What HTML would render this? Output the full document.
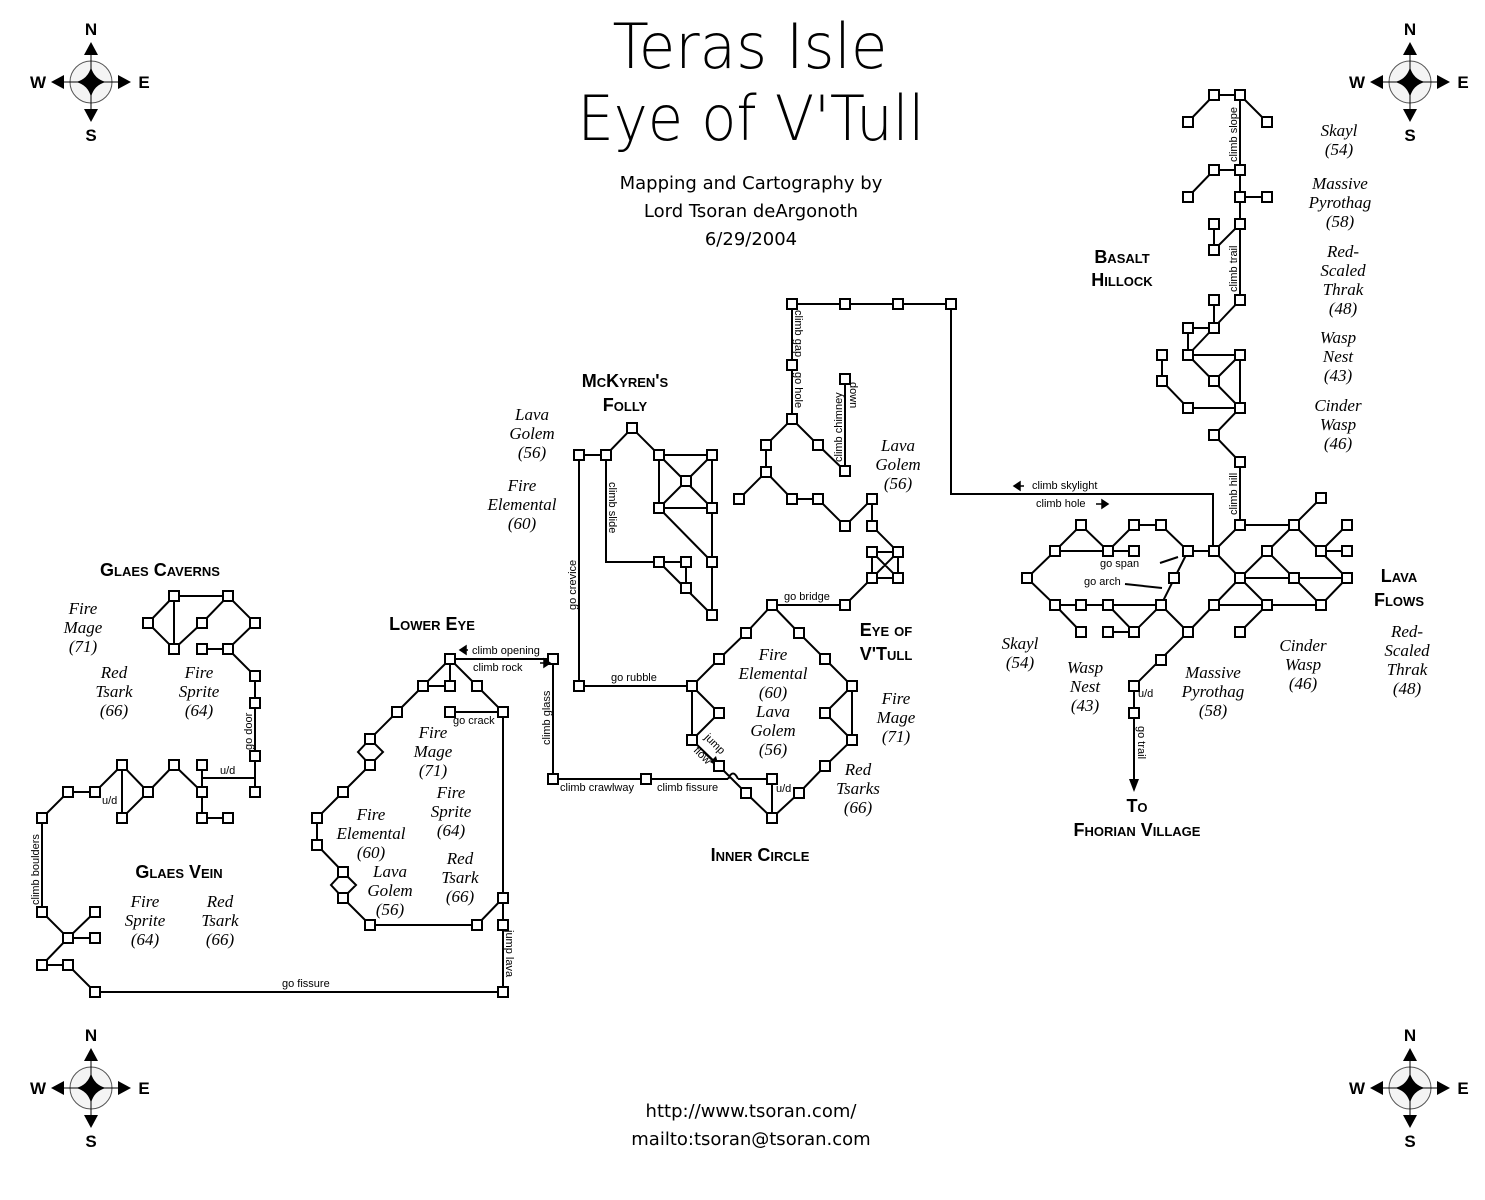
<!DOCTYPE html>
<html><head><meta charset="utf-8"><style>
html,body{margin:0;padding:0;background:#fff;}
svg{display:block;}
.e{fill:none;stroke:#000;stroke-width:2;}
.t{font-family:"Liberation Sans",sans-serif;font-size:11px;fill:#000;}
.m{font-family:"Liberation Serif",serif;font-style:italic;font-size:17px;fill:#000;text-anchor:middle;}
.h{font-family:"Liberation Sans",sans-serif;font-weight:bold;font-variant:small-caps;font-size:18px;fill:#000;text-anchor:middle;}
.c{font-family:"Liberation Sans",sans-serif;font-size:17px;font-weight:bold;fill:#000;text-anchor:middle;}
</style></head><body>
<svg width="1485" height="1200" viewBox="0 0 1485 1200" xmlns="http://www.w3.org/2000/svg">
<defs>
<rect id="n" x="-5" y="-5" width="10" height="10" fill="#fff" stroke="#000" stroke-width="2"/>
<g id="cp">
<circle cx="0" cy="0" r="21" fill="#f4f4f4" stroke="#555" stroke-width="1"/>
<path d="M0 -36V36M-36 0H36" stroke="#000" stroke-width="1"/>
<path d="M0 -15Q3 -3 15 0Q3 3 0 15Q-3 3 -15 0Q-3 -3 0 -15Z" fill="#000"/>
<path d="M0 -40L-7 -27H7Z M0 40L-7 27H7Z M-40 0L-27 -7V7Z M40 0L27 -7V7Z" fill="#000"/>
<text x="0" y="-47" class="c">N</text><text x="0" y="59" class="c">S</text>
<text x="-53" y="6" class="c">W</text><text x="53" y="6" class="c">E</text>
</g>
</defs>
<use href="#cp" x="91" y="82"/><use href="#cp" x="1410" y="82"/>
<use href="#cp" x="91" y="1088"/><use href="#cp" x="1410" y="1088"/>

<text x="750" y="68" text-anchor="middle" font-family="DejaVu Sans,Liberation Sans,sans-serif" font-size="62" font-weight="300" textLength="275" lengthAdjust="spacingAndGlyphs">Teras Isle</text>
<text x="751" y="140" text-anchor="middle" font-family="DejaVu Sans,Liberation Sans,sans-serif" font-size="62" font-weight="300" textLength="347" lengthAdjust="spacingAndGlyphs">Eye of V'Tull</text>
<g font-family="DejaVu Sans,Liberation Sans,sans-serif" font-size="18" text-anchor="middle">
<text x="751" y="189">Mapping and Cartography by</text>
<text x="751" y="217">Lord Tsoran deArgonoth</text>
<text x="751" y="245">6/29/2004</text>
<text x="751" y="1117">http://www.tsoran.com/</text>
<text x="751" y="1145">mailto:tsoran@tsoran.com</text>
</g>

<path class="e" d="
M174 596L228 596 M174 596L148 623L174 649L174 596 M174 649L202 623L228 596L255 623L228 649L202 649 M228 649L255 676L255 792
M202 765L202 818L228 818 M202 778H255V792 M174 765L202 792 M174 765L148 792L122 765L122 818L148 792 M122 765L95 792L68 792L42 818L42 912L68 938L95 912 M68 938L95 938 M68 938L42 965L68 965L95 992L503 992L503 898 M503 925L503 898L503 712L477 686L450 659L450 686L423 686L450 659 M423 686L397 712L370 739 M370 765L343 792L317 818L317 845L343 872 M343 898L370 925L477 925L503 898 M450 712L503 712 M450 659H553V779H646 M370 739L358 752L370 765L383 752Z M343 872L331 885L343 898L356 885Z
M553 779H646H728 M738 779H772V818 M728 779Q733 768 738 779
M579 686H692 M579 686V455H606L632 428L659 455H712V615 M659 455V508H712 M659 455L712 508 M712 455L659 508 M659 508L712 562 M606 455V562H686V588 M659 562L712 615
M772 605L746 633L719 659L692 686V740L719 766L746 793L772 818L799 793L825 766L852 740V686L825 659L799 633L772 605 M692 686L719 713L692 740 M852 686L825 713L852 740 M772 605H845L872 578 M872 552H898V578H872Z M872 552L898 578 M898 552L872 578 M898 552L872 526V499L845 526L818 499H792L766 472L739 499 M766 472V445L792 419L818 445L845 471 M845 379V471 M792 419V304H951V494H1213V551
M1214 95H1240L1267 122 M1214 95L1188 122 M1240 95V170H1214L1188 197 M1240 170V224L1214 250V224 M1240 197H1267 M1240 224V300L1188 355 M1214 300V328H1188V355H1240V408 M1188 355L1240 408 M1240 355L1214 381 M1162 355V381L1188 408H1240L1214 435L1240 462V525
M1240 525H1294L1321 498 M1294 525L1240 578 M1294 525L1347 578 M1321 551L1347 525 M1321 551H1347 M1240 525L1214 551L1240 578H1347 M1267 551L1321 605 M1240 578L1267 605 M1240 578L1188 632L1134 686V713 M1214 605H1321L1347 578 M1267 605L1240 632
M1214 551H1188L1161 525H1134L1108 551 M1188 551L1161 605L1188 632 M1161 605L1134 632L1108 605 M1108 632H1134 M1161 605H1055L1027 578L1055 551H1134 M1055 551L1081 525L1108 551 M1055 605L1081 632
M1134 713V780 M1160 563L1178 557 M1125 584L1162 588
"/>
<path d="M1134 792L1129 779H1139Z" fill="#000"/>
<path d="M719 767L710 762L716 756Z" fill="#000"/>
<path d="M719 767L703 752" stroke="#000" stroke-width="1"/>

<g>
<use href="#n" x="174" y="596"/><use href="#n" x="228" y="596"/><use href="#n" x="148" y="623"/><use href="#n" x="202" y="623"/><use href="#n" x="255" y="623"/><use href="#n" x="174" y="649"/><use href="#n" x="202" y="649"/><use href="#n" x="228" y="649"/><use href="#n" x="255" y="676"/><use href="#n" x="255" y="703"/><use href="#n" x="255" y="756"/><use href="#n" x="255" y="792"/>
<use href="#n" x="202" y="765"/><use href="#n" x="202" y="792"/><use href="#n" x="174" y="765"/><use href="#n" x="148" y="792"/><use href="#n" x="122" y="765"/><use href="#n" x="122" y="818"/><use href="#n" x="95" y="792"/><use href="#n" x="68" y="792"/><use href="#n" x="42" y="818"/><use href="#n" x="202" y="818"/><use href="#n" x="228" y="818"/>
<use href="#n" x="42" y="912"/><use href="#n" x="68" y="938"/><use href="#n" x="95" y="912"/><use href="#n" x="95" y="938"/><use href="#n" x="42" y="965"/><use href="#n" x="68" y="965"/><use href="#n" x="95" y="992"/><use href="#n" x="503" y="992"/>
<use href="#n" x="503" y="925"/><use href="#n" x="503" y="898"/><use href="#n" x="503" y="712"/><use href="#n" x="477" y="686"/><use href="#n" x="450" y="659"/><use href="#n" x="450" y="686"/><use href="#n" x="423" y="686"/><use href="#n" x="397" y="712"/><use href="#n" x="370" y="739"/><use href="#n" x="370" y="765"/><use href="#n" x="343" y="792"/><use href="#n" x="317" y="818"/><use href="#n" x="317" y="845"/><use href="#n" x="343" y="872"/><use href="#n" x="343" y="898"/><use href="#n" x="370" y="925"/><use href="#n" x="477" y="925"/><use href="#n" x="450" y="712"/>
<use href="#n" x="553" y="659"/><use href="#n" x="553" y="779"/><use href="#n" x="646" y="779"/>
<use href="#n" x="579" y="686"/><use href="#n" x="579" y="455"/><use href="#n" x="606" y="455"/><use href="#n" x="632" y="428"/><use href="#n" x="659" y="455"/><use href="#n" x="712" y="455"/><use href="#n" x="686" y="481"/><use href="#n" x="659" y="508"/><use href="#n" x="712" y="508"/><use href="#n" x="712" y="562"/><use href="#n" x="659" y="562"/><use href="#n" x="686" y="562"/><use href="#n" x="686" y="588"/><use href="#n" x="712" y="615"/>
<use href="#n" x="772" y="605"/><use href="#n" x="746" y="633"/><use href="#n" x="799" y="633"/><use href="#n" x="719" y="659"/><use href="#n" x="825" y="659"/><use href="#n" x="692" y="686"/><use href="#n" x="852" y="686"/><use href="#n" x="719" y="713"/><use href="#n" x="825" y="713"/><use href="#n" x="692" y="740"/><use href="#n" x="852" y="740"/><use href="#n" x="719" y="766"/><use href="#n" x="825" y="766"/><use href="#n" x="746" y="793"/><use href="#n" x="799" y="793"/><use href="#n" x="772" y="818"/><use href="#n" x="772" y="779"/>
<use href="#n" x="845" y="605"/><use href="#n" x="872" y="578"/><use href="#n" x="898" y="578"/><use href="#n" x="872" y="552"/><use href="#n" x="898" y="552"/><use href="#n" x="872" y="526"/><use href="#n" x="872" y="499"/><use href="#n" x="845" y="526"/><use href="#n" x="818" y="499"/><use href="#n" x="792" y="499"/><use href="#n" x="766" y="472"/><use href="#n" x="739" y="499"/><use href="#n" x="766" y="445"/><use href="#n" x="792" y="419"/><use href="#n" x="818" y="445"/><use href="#n" x="845" y="471"/><use href="#n" x="845" y="379"/><use href="#n" x="792" y="365"/><use href="#n" x="792" y="304"/><use href="#n" x="845" y="304"/><use href="#n" x="898" y="304"/><use href="#n" x="951" y="304"/>
<use href="#n" x="1214" y="95"/><use href="#n" x="1240" y="95"/><use href="#n" x="1188" y="122"/><use href="#n" x="1267" y="122"/><use href="#n" x="1214" y="170"/><use href="#n" x="1240" y="170"/><use href="#n" x="1188" y="197"/><use href="#n" x="1240" y="197"/><use href="#n" x="1267" y="197"/><use href="#n" x="1240" y="224"/><use href="#n" x="1214" y="224"/><use href="#n" x="1214" y="250"/>
<use href="#n" x="1240" y="300"/><use href="#n" x="1214" y="300"/><use href="#n" x="1214" y="328"/><use href="#n" x="1188" y="328"/><use href="#n" x="1188" y="355"/><use href="#n" x="1240" y="355"/><use href="#n" x="1214" y="381"/><use href="#n" x="1162" y="355"/><use href="#n" x="1162" y="381"/><use href="#n" x="1188" y="408"/><use href="#n" x="1240" y="408"/><use href="#n" x="1214" y="435"/><use href="#n" x="1240" y="462"/>
<use href="#n" x="1240" y="525"/><use href="#n" x="1294" y="525"/><use href="#n" x="1321" y="498"/><use href="#n" x="1347" y="525"/><use href="#n" x="1214" y="551"/><use href="#n" x="1267" y="551"/><use href="#n" x="1321" y="551"/><use href="#n" x="1347" y="551"/><use href="#n" x="1240" y="578"/><use href="#n" x="1294" y="578"/><use href="#n" x="1347" y="578"/><use href="#n" x="1214" y="605"/><use href="#n" x="1267" y="605"/><use href="#n" x="1321" y="605"/><use href="#n" x="1240" y="632"/><use href="#n" x="1188" y="632"/><use href="#n" x="1161" y="660"/><use href="#n" x="1134" y="686"/><use href="#n" x="1134" y="713"/>
<use href="#n" x="1188" y="551"/><use href="#n" x="1161" y="525"/><use href="#n" x="1134" y="525"/><use href="#n" x="1108" y="551"/><use href="#n" x="1134" y="551"/><use href="#n" x="1081" y="525"/><use href="#n" x="1055" y="551"/><use href="#n" x="1027" y="578"/><use href="#n" x="1055" y="605"/><use href="#n" x="1081" y="605"/><use href="#n" x="1108" y="605"/><use href="#n" x="1161" y="605"/><use href="#n" x="1174" y="578"/><use href="#n" x="1081" y="632"/><use href="#n" x="1108" y="632"/><use href="#n" x="1134" y="632"/>
</g>

<g class="t">
<text transform="translate(252,750) rotate(-90)">go door</text>
<text x="220" y="774">u/d</text>
<text x="102" y="804">u/d</text>
<text transform="translate(39,905) rotate(-90)">climb boulders</text>
<text x="282" y="987">go fissure</text>
<text transform="translate(506,930) rotate(90)">jump lava</text>
<text x="453" y="724">go crack</text>
<text x="472" y="654">climb opening</text>
<text x="473" y="671">climb rock</text>
<text transform="translate(550,745) rotate(-90)">climb glass</text>
<text x="560" y="791">climb crawlway</text>
<text x="657" y="791">climb fissure</text>
<text x="776" y="792">u/d</text>
<text x="611" y="681">go rubble</text>
<text transform="translate(576,610) rotate(-90)">go crevice</text>
<text transform="translate(609,482) rotate(90)">climb slide</text>
<text x="784" y="600">go bridge</text>
<text transform="translate(795,310) rotate(90)">climb gap</text>
<text transform="translate(795,372) rotate(90)">go hole</text>
<text transform="translate(842,462) rotate(-90)">climb chimney</text>
<text transform="translate(850,382) rotate(90)">down</text>
<text transform="translate(704,738) rotate(45)">jump</text>
<text transform="translate(693,751) rotate(45)">flow</text>
<text x="1032" y="489">climb skylight</text>
<text x="1036" y="507">climb hole</text>
<text x="1100" y="567">go span</text>
<text x="1084" y="585">go arch</text>
<text transform="translate(1237,162) rotate(-90)">climb slope</text>
<text transform="translate(1237,292) rotate(-90)">climb trail</text>
<text transform="translate(1237,515) rotate(-90)">climb hill</text>
<text x="1138" y="697">u/d</text>
<text transform="translate(1138,726) rotate(90)">go trail</text>
</g>
<path d="M1014 486H1024M1014 486L1020 482V490Z M1096 504H1108M1108 504L1102 500V508Z M468 650H460M460 650L466 646V654Z M540 663H550M550 663L544 659V667Z" stroke="#000" stroke-width="1.5" fill="#000"/>

<g class="h">
<text x="160" y="576">Glaes Caverns</text>
<text x="432" y="630">Lower Eye</text>
<text x="179" y="878">Glaes Vein</text>
<text x="625" y="387">McKyren's</text>
<text x="625" y="411">Folly</text>
<text x="886" y="636">Eye of</text>
<text x="886" y="660">V'Tull</text>
<text x="760" y="861">Inner Circle</text>
<text x="1122" y="263">Basalt</text>
<text x="1122" y="286">Hillock</text>
<text x="1399" y="582">Lava</text>
<text x="1399" y="606">Flows</text>
<text x="1137" y="812">To</text>
<text x="1137" y="836">Fhorian Village</text>
</g>

<g class="m">
<text x="83" y="614">Fire</text><text x="83" y="633">Mage</text><text x="83" y="652">(71)</text>
<text x="114" y="678">Red</text><text x="114" y="697">Tsark</text><text x="114" y="716">(66)</text>
<text x="199" y="678">Fire</text><text x="199" y="697">Sprite</text><text x="199" y="716">(64)</text>
<text x="145" y="907">Fire</text><text x="145" y="926">Sprite</text><text x="145" y="945">(64)</text>
<text x="220" y="907">Red</text><text x="220" y="926">Tsark</text><text x="220" y="945">(66)</text>
<text x="433" y="738">Fire</text><text x="433" y="757">Mage</text><text x="433" y="776">(71)</text>
<text x="451" y="798">Fire</text><text x="451" y="817">Sprite</text><text x="451" y="836">(64)</text>
<text x="371" y="820">Fire</text><text x="371" y="839">Elemental</text><text x="371" y="858">(60)</text>
<text x="460" y="864">Red</text><text x="460" y="883">Tsark</text><text x="460" y="902">(66)</text>
<text x="390" y="877">Lava</text><text x="390" y="896">Golem</text><text x="390" y="915">(56)</text>
<text x="532" y="420">Lava</text><text x="532" y="439">Golem</text><text x="532" y="458">(56)</text>
<text x="522" y="491">Fire</text><text x="522" y="510">Elemental</text><text x="522" y="529">(60)</text>
<text x="898" y="451">Lava</text><text x="898" y="470">Golem</text><text x="898" y="489">(56)</text>
<text x="773" y="660">Fire</text><text x="773" y="679">Elemental</text><text x="773" y="698">(60)</text>
<text x="773" y="717">Lava</text><text x="773" y="736">Golem</text><text x="773" y="755">(56)</text>
<text x="896" y="704">Fire</text><text x="896" y="723">Mage</text><text x="896" y="742">(71)</text>
<text x="858" y="775">Red</text><text x="858" y="794">Tsarks</text><text x="858" y="813">(66)</text>
<text x="1339" y="136">Skayl</text><text x="1339" y="155">(54)</text>
<text x="1340" y="189">Massive</text><text x="1340" y="208">Pyrothag</text><text x="1340" y="227">(58)</text>
<text x="1343" y="257">Red-</text><text x="1343" y="276">Scaled</text><text x="1343" y="295">Thrak</text><text x="1343" y="314">(48)</text>
<text x="1338" y="343">Wasp</text><text x="1338" y="362">Nest</text><text x="1338" y="381">(43)</text>
<text x="1338" y="411">Cinder</text><text x="1338" y="430">Wasp</text><text x="1338" y="449">(46)</text>
<text x="1020" y="649">Skayl</text><text x="1020" y="668">(54)</text>
<text x="1085" y="673">Wasp</text><text x="1085" y="692">Nest</text><text x="1085" y="711">(43)</text>
<text x="1213" y="678">Massive</text><text x="1213" y="697">Pyrothag</text><text x="1213" y="716">(58)</text>
<text x="1303" y="651">Cinder</text><text x="1303" y="670">Wasp</text><text x="1303" y="689">(46)</text>
<text x="1407" y="637">Red-</text><text x="1407" y="656">Scaled</text><text x="1407" y="675">Thrak</text><text x="1407" y="694">(48)</text>
</g>
</svg>
</body></html>
